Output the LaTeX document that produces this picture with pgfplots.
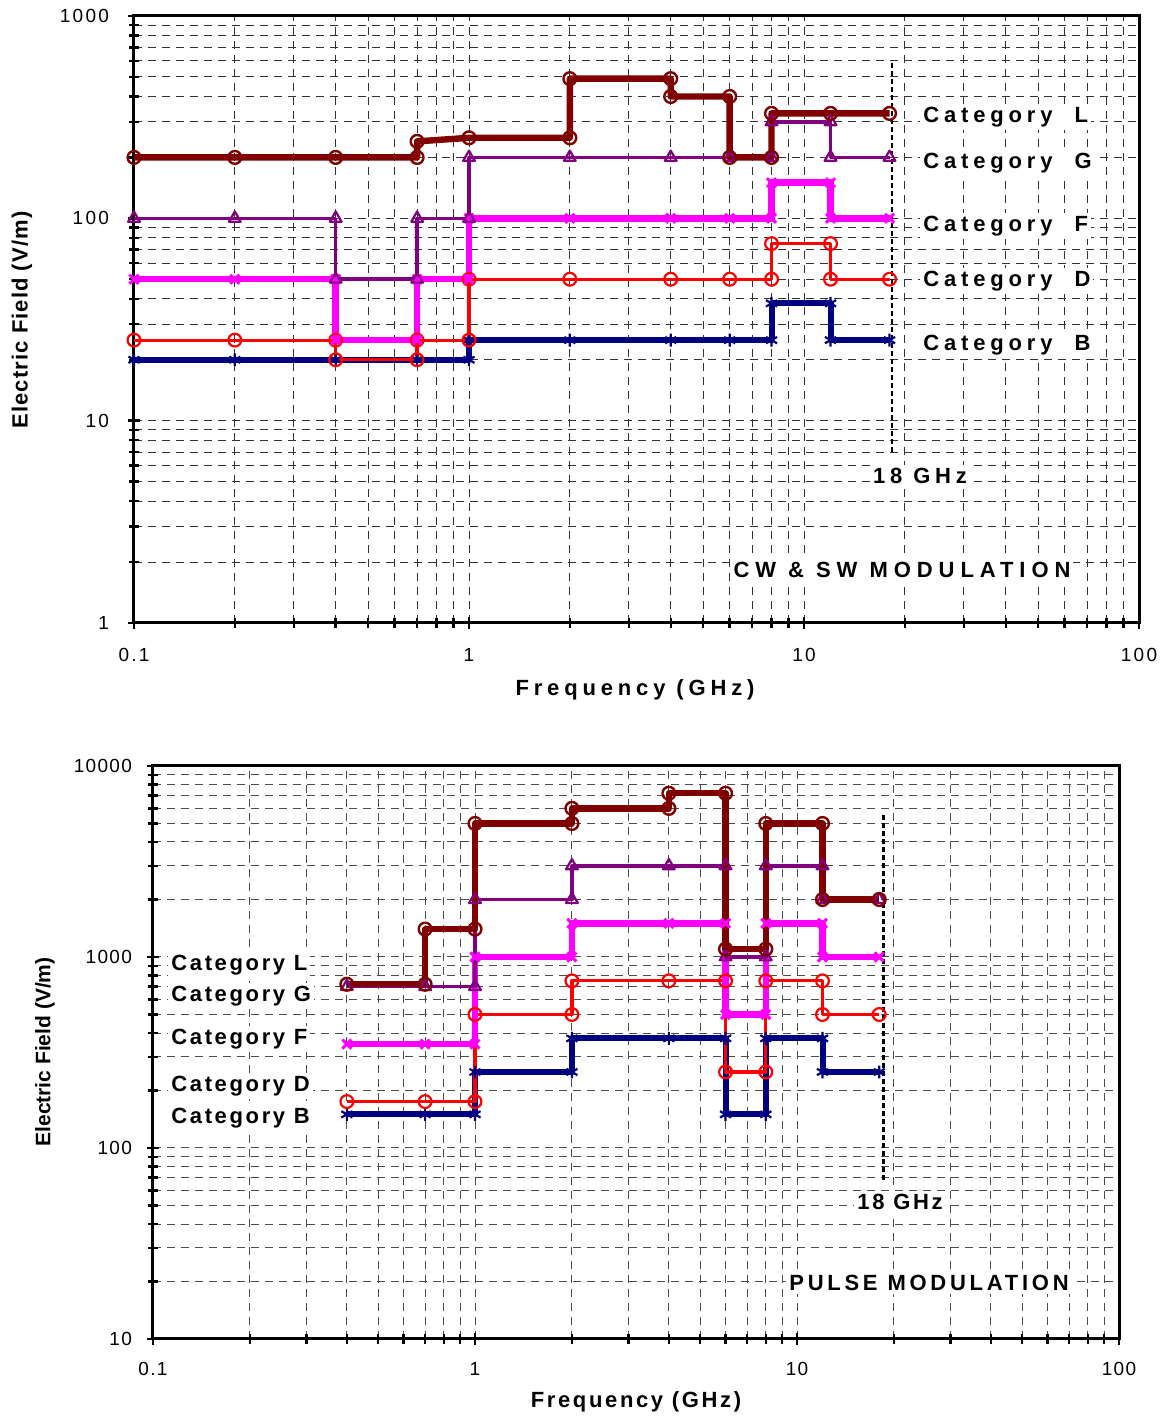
\documentclass[border=0pt]{standalone}
\usepackage{fontspec}
\setmainfont{Liberation Sans}
\newfontfamily\spA[LetterSpace=22]{Liberation Sans}
\newfontfamily\spC[LetterSpace=27]{Liberation Sans}
\newfontfamily\spB[LetterSpace=12]{Liberation Sans}
\newfontfamily\spD[LetterSpace=17]{Liberation Sans}
\newfontfamily\spY[LetterSpace=5]{Liberation Sans}
\newfontfamily\tkA[LetterSpace=12]{Liberation Sans}
\newfontfamily\tkB[LetterSpace=7]{Liberation Sans}
\usepackage{pgfplots}
\pgfplotsset{compat=1.18}
\definecolor{cL}{RGB}{128,0,0}
\definecolor{cG}{RGB}{128,0,128}
\definecolor{cF}{RGB}{255,0,255}
\definecolor{cD}{RGB}{255,0,0}
\definecolor{cB}{RGB}{0,0,128}
\tikzset{
  serL/.style={cL, line width=3.2pt, line join=round, mark=o, mark size=3.2pt, mark options={line width=1.2pt}},
  serG/.style={cG, line width=1.8pt, line join=round, mark=triangle, mark size=3.4pt, mark options={line width=1.1pt}},
  serF/.style={cF, line width=3.2pt, line join=round, mark=x, mark size=3.2pt, mark options={line width=1.5pt}},
  serD/.style={cD, line width=1.6pt, line join=round, mark=o, mark size=3.2pt, mark options={line width=1.1pt}},
  serB/.style={cB, line width=3pt, line join=round, mark=asterisk, mark size=3.2pt, mark options={line width=1.1pt}},
  lab/.style={fill=white, inner sep=1.5pt},
}
\begin{document}
\begin{tikzpicture}
\path[use as bounding box] (0,0) rectangle (582pt,708.5pt);
% ---------- top chart ----------
\begin{axis}[at={(67pt,397pt)}, anchor=south west,
  scale only axis, width=502.5pt, height=303.5pt,
  xmode=log, ymode=log,
  xmin=0.1, xmax=100, ymin=1, ymax=1000, clip=false,
  axis line style={line width=1.5pt},
  grid=both,
  major grid style={black!80, line width=0.5pt, dash pattern=on 4pt off 3pt},
  minor grid style={black!80, line width=0.5pt, dash pattern=on 4pt off 3pt},
  tick style={black, line width=1.2pt},
  tick align=center,
  major tick length=6pt, minor tick length=5pt,
  xtick pos=bottom, ytick pos=left,
  xtick={0.1,1,10,100}, xticklabels={0.1,1,10,100},
  minor xtick={0.2,0.3,0.4,0.5,0.6,0.7,0.8,0.9,2,3,4,5,6,7,8,9,20,30,40,50,60,70,80,90},
  ytick={1,10,100,1000}, yticklabels={1,10,100,1000},
  minor ytick={2,3,4,5,6,7,8,9,20,30,40,50,60,70,80,90,200,300,400,500,600,700,800,900},
  /pgf/number format/assume math mode=true,
  xticklabel style={font=\tkA\fontsize{9.5}{11}\selectfont, yshift=-6pt},
  yticklabel style={font=\tkA\fontsize{9.5}{11}\selectfont, xshift=-6pt},
]
\addplot[serB] coordinates {(0.1,20)(0.2,20)(0.4,20)(0.7,20)(1,20)(1,25)(2,25)(4,25)(6,25)(8,25)(8,38)(12,38)(12,25)(18,25)};
\addplot[serD] coordinates {(0.1,25)(0.2,25)(0.4,25)(0.4,20)(0.7,20)(0.7,25)(1,25)(1,50)(2,50)(4,50)(6,50)(8,50)(8,75)(12,75)(12,50)(18,50)};
\addplot[serF] coordinates {(0.1,50)(0.2,50)(0.4,50)(0.4,25)(0.7,25)(0.7,50)(1,50)(1,100)(2,100)(4,100)(6,100)(8,100)(8,150)(12,150)(12,100)(18,100)};
\addplot[serG] coordinates {(0.1,100)(0.2,100)(0.4,100)(0.4,50)(0.7,50)(0.7,100)(1,100)(1,200)(2,200)(4,200)(6,200)(8,200)(8,300)(12,300)(12,200)(18,200)};
\addplot[serL] coordinates {(0.1,200)(0.2,200)(0.4,200)(0.7,200)(0.7,240)(1,250)(2,250)(2,490)(4,490)(4,400)(6,400)(6,200)(8,200)(8,330)(12,330)(18,330)};
\addplot[black, line width=1.4pt, dash pattern=on 2.5pt off 1.5pt] coordinates {(18.3,7)(18.3,600)};
\end{axis}
% ---------- bottom chart ----------
\begin{axis}[at={(76.5pt,39pt)}, anchor=south west,
  scale only axis, width=483pt, height=286.5pt,
  xmode=log, ymode=log,
  xmin=0.1, xmax=100, ymin=10, ymax=10000, clip=false,
  axis line style={line width=1.5pt},
  grid=both,
  major grid style={black!70, line width=0.5pt, dash pattern=on 4pt off 3pt},
  minor grid style={black!70, line width=0.5pt, dash pattern=on 4pt off 3pt},
  tick style={black, line width=1.2pt},
  tick align=center,
  major tick length=6pt, minor tick length=5pt,
  xtick pos=bottom, ytick pos=left,
  xtick={0.1,1,10,100}, xticklabels={0.1,1,10,100},
  minor xtick={0.2,0.3,0.4,0.5,0.6,0.7,0.8,0.9,2,3,4,5,6,7,8,9,20,30,40,50,60,70,80,90},
  ytick={10,100,1000,10000}, yticklabels={10,100,1000,10000},
  minor ytick={20,30,40,50,60,70,80,90,200,300,400,500,600,700,800,900,2000,3000,4000,5000,6000,7000,8000,9000},
  /pgf/number format/assume math mode=true,
  xticklabel style={font=\tkB\fontsize{9.5}{11}\selectfont, yshift=-5pt},
  yticklabel style={font=\tkB\fontsize{9.5}{11}\selectfont, xshift=-4pt},
]
\addplot[serB] coordinates {(0.4,150)(0.7,150)(1,150)(1,250)(2,250)(2,375)(4,375)(6,375)(6,150)(8,150)(8,375)(12,375)(12,250)(18,250)};
\addplot[serD] coordinates {(0.4,175)(0.7,175)(1,175)(1,500)(2,500)(2,750)(4,750)(6,750)(6,250)(8,250)(8,750)(12,750)(12,500)(18,500)};
\addplot[serF] coordinates {(0.4,350)(0.7,350)(1,350)(1,1000)(2,1000)(2,1500)(4,1500)(6,1500)(6,500)(8,500)(8,1500)(12,1500)(12,1000)(18,1000)};
\addplot[serG] coordinates {(0.4,700)(0.7,700)(1,700)(1,2000)(2,2000)(2,3000)(4,3000)(6,3000)(6,1000)(8,1000)(8,3000)(12,3000)(12,2000)(18,2000)};
\addplot[serL] coordinates {(0.4,720)(0.7,720)(0.7,1400)(1,1400)(1,5000)(2,5000)(2,6000)(4,6000)(4,7200)(6,7200)(6,1100)(8,1100)(8,5000)(12,5000)(12,2000)(18,2000)};
\addplot[black, line width=1.4pt, dash pattern=on 2.5pt off 1.5pt] coordinates {(18.6,68)(18.6,5700)};
\end{axis}
% ---------- text ----------
\node[rotate=90, font=\spY\bfseries\fontsize{11}{13}\selectfont] at (11pt,548.5pt) {Electric Field (V/m)};
\node[font=\spA\bfseries\fontsize{11}{13}\selectfont] at (317.5pt,363.5pt) {Frequency (GHz)};
\begin{scope}[every node/.style={lab, anchor=west, font=\spA\bfseries\fontsize{11}{13}\selectfont}]
\node at (460pt,650pt) {Category\ \ L};
\node at (460pt,627pt) {Category\ \ G};
\node at (460pt,595.5pt) {Category\ \ F};
\node at (460pt,568pt) {Category\ \ D};
\node at (460pt,536pt) {Category\ \ B};
\end{scope}
\node[lab, font=\spA\bfseries\fontsize{11}{13}\selectfont] at (460pt,470.5pt) {18 GHz};
\node[lab, font=\spC\bfseries\fontsize{11}{13}\selectfont] at (451pt,423.5pt) {CW \& SW MODULATION};
\node[rotate=90, font=\bfseries\fontsize{10.5}{12}\selectfont] at (22.5pt,182.5pt) {Electric Field (V/m)};
\node[font=\spB\bfseries\fontsize{11}{13}\selectfont] at (318pt,7.5pt) {Frequency (GHz)};
\begin{scope}[every node/.style={lab, anchor=west, font=\spB\bfseries\fontsize{11}{13}\selectfont}]
\node at (84pt,226pt) {Category L};
\node at (84pt,210.5pt) {Category G};
\node at (84pt,189pt) {Category F};
\node at (84pt,165.5pt) {Category D};
\node at (84pt,149.5pt) {Category B};
\end{scope}
\node[lab, font=\spB\bfseries\fontsize{11}{13}\selectfont] at (450pt,107.5pt) {18 GHz};
\node[lab, font=\spD\bfseries\fontsize{11}{13}\selectfont] at (464.5pt,67pt) {PULSE MODULATION};
\end{tikzpicture}
\end{document}
